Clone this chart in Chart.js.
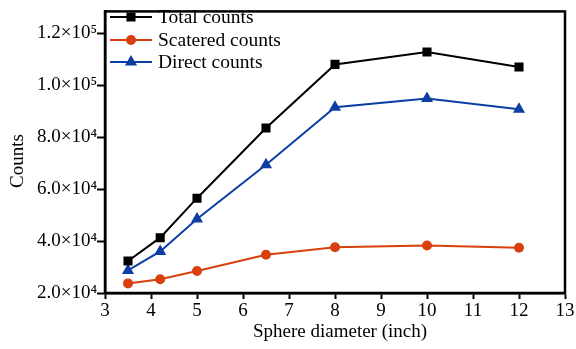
<!DOCTYPE html>
<html lang="en">
<head>
  <meta charset="UTF-8">
  <title>Counts vs sphere diameter</title>
  <script src="https://cdn.jsdelivr.net/npm/chart.js"></script>
  <style>
    body {
      margin: 0;
      background: #ffffff;
    }
    .chart-container {
      position: relative;
      width: 576px;
      height: 349px;
    }
  </style>
</head>
<body>
  <div class="chart-container">
    <canvas id="countsChart"></canvas>
  </div>

  <script>
    // Data
    const diameters = [3.5, 4.2, 5, 6.5, 8, 10, 12];
    const totalCounts = [32300, 41300, 56500, 83500, 108000, 112800, 107000];
    const scatteredCounts = [23700, 25300, 28500, 34700, 37600, 38300, 37400];
    const directCounts = [28700, 36000, 48500, 69400, 91500, 94900, 90700];
    const yTickValues = [20000, 40000, 60000, 80000, 100000, 120000];
    const yTickLabels = ['2.0×10⁴', '4.0×10⁴', '6.0×10⁴', '8.0×10⁴', '1.0×10⁵', '1.2×10⁵'];

    const serif = '"Liberation Serif", "DejaVu Serif", serif';

    const toPoints = (ys) => diameters.map((x, i) => ({ x: x, y: ys[i] }));

    // Frame, axis titles and the legend inside the plot
    const framePlugin = {
      id: 'frameAndLegend',
      afterDraw: (chart) => {
        const { ctx, chartArea } = chart;
        ctx.save();
        ctx.strokeStyle = '#000';
        ctx.lineWidth = 2.5;
        ctx.strokeRect(chartArea.left, chartArea.top, chartArea.right - chartArea.left, chartArea.bottom - chartArea.top);

        // axis titles (placed off-centre as in the figure)
        ctx.fillStyle = '#000';
        ctx.font = '19px ' + serif;
        ctx.textAlign = 'center';
        ctx.textBaseline = 'middle';
        ctx.fillText('Sphere diameter (inch)', 340, 332);
        ctx.save();
        ctx.translate(18, 161);
        ctx.rotate(-Math.PI / 2);
        ctx.fillText('Counts', 0, 0);
        ctx.restore();

        // legend
        const rowY = [17, 40, 62];
        chart.data.datasets.forEach((ds, i) => {
          const y = rowY[i];
          ctx.strokeStyle = ds.borderColor;
          ctx.lineWidth = 2;
          ctx.beginPath();
          ctx.moveTo(110, y);
          ctx.lineTo(152, y);
          ctx.stroke();
          ctx.fillStyle = ds.pointBackgroundColor;
          ctx.strokeStyle = ds.pointBorderColor;
          Chart.helpers.drawPoint(ctx, {
            pointStyle: ds.pointStyle,
            radius: ds.pointRadius,
            borderWidth: 1
          }, 131, y);
          ctx.fillStyle = '#000';
          ctx.font = '19.5px ' + serif;
          ctx.textBaseline = 'middle';
          ctx.textAlign = 'left';
          ctx.fillText(ds.label, 158, y + 1);
        });
        ctx.restore();
      }
    };

    const ctx = document.getElementById('countsChart').getContext('2d');

    const countsChart = new Chart(ctx, {
      type: 'line',
      data: {
        datasets: [{
          label: 'Total counts',
          data: toPoints(totalCounts),
          borderColor: '#000000',
          backgroundColor: '#000000',
          borderWidth: 2,
          pointStyle: 'rect',
          pointRadius: 5,
          pointBackgroundColor: '#000000',
          pointBorderColor: '#000000',
        }, {
          label: 'Scatered counts',
          data: toPoints(scatteredCounts),
          borderColor: '#d8400e',
          backgroundColor: '#d8400e',
          borderWidth: 2,
          pointStyle: 'circle',
          pointRadius: 4,
          pointBackgroundColor: '#d8400e',
          pointBorderColor: '#d8400e',
        }, {
          label: 'Direct counts',
          data: toPoints(directCounts),
          borderColor: '#0d3fa3',
          backgroundColor: '#0d3fa3',
          borderWidth: 2,
          pointStyle: 'triangle',
          pointRadius: 5,
          pointBackgroundColor: '#0d3fa3',
          pointBorderColor: '#0d3fa3',
        }]
      },
      options: {
        responsive: true,
        maintainAspectRatio: false,
        animation: false,
        layout: {
          padding: { top: 8, right: 11, left: 0, bottom: 0 }
        },
        plugins: {
          legend: { display: false },
          tooltip: { enabled: false },
        },
        scales: {
          x: {
            type: 'linear',
            min: 3,
            max: 13,
            ticks: {
              stepSize: 1,
              color: '#000',
              padding: 1,
              font: { family: serif, size: 19 },
            },
            grid: {
              drawOnChartArea: false,
              drawTicks: true,
              tickLength: 6,
              tickWidth: 2,
              tickColor: '#000',
            },
            border: { color: '#000', width: 2.5 },
            afterFit: (scale) => { scale.height = 56; },
          },
          y: {
            min: 20000,
            max: 128400,
            afterBuildTicks: (scale) => {
              scale.ticks = yTickValues.map((v) => ({ value: v }));
            },
            ticks: {
              color: '#000',
              padding: 0,
              font: { family: serif, size: 19 },
              callback: (value) => {
                const idx = yTickValues.indexOf(value);
                return idx >= 0 ? yTickLabels[idx] : '';
              },
            },
            grid: {
              drawOnChartArea: false,
              drawTicks: true,
              tickLength: 8,
              tickWidth: 2,
              tickColor: '#000',
            },
            border: { color: '#000', width: 2.5 },
            afterFit: (scale) => { scale.width = 105; },
          },
        },
      },
      plugins: [framePlugin],
    });
  </script>
</body>
</html>
